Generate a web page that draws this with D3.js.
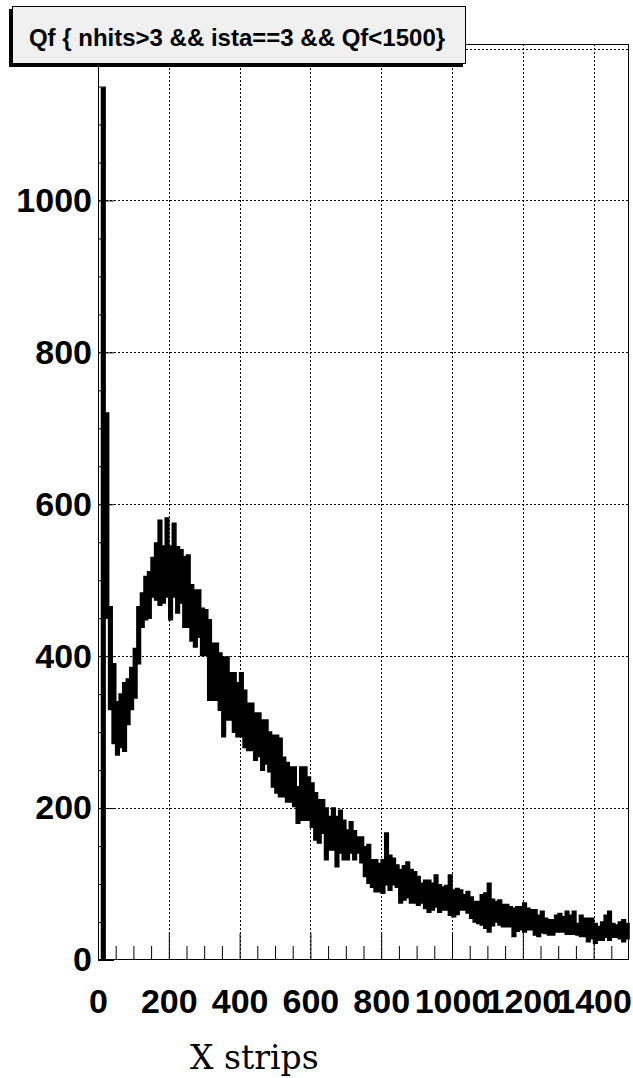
<!DOCTYPE html>
<html>
<head>
<meta charset="utf-8">
<script src="https://cdn.jsdelivr.net/npm/d3@7/dist/d3.min.js"></script>
<style>
  html, body { margin: 0; padding: 0; background: #ffffff; }
  svg { display: block; }
</style>
</head>
<body>
<script>
// Qf spectrum (strips), 10-strip columns: highest and lowest bin content seen in each column
const binWidth = 10;
const stripHi = [
  0, 1148, 720, 465, 390, 340, 350, 365, 370, 385,
  410, 465, 483, 505, 511, 530, 549, 579, 545, 582,
  545, 575, 544, 540, 531, 533, 494, 487, 487, 463,
  461, 448, 417, 417, 404, 399, 399, 378, 378, 365,
  378, 355, 338, 338, 325, 325, 316, 316, 300, 296,
  296, 292, 267, 260, 254, 254, 228, 254, 254, 241,
  233, 220, 211, 211, 200, 189, 200, 189, 197, 184,
  171, 182, 170, 162, 162, 149, 152, 132, 132, 127,
  132, 167, 138, 134, 125, 119, 124, 129, 119, 116,
  110, 101, 105, 105, 101, 112, 99, 96, 98, 112,
  92, 94, 92, 86, 90, 83, 77, 77, 86, 88,
  101, 80, 77, 79, 73, 73, 70, 68, 70, 70,
  75, 68, 66, 66, 59, 64, 55, 53, 53, 59,
  61, 57, 64, 59, 64, 48, 59, 55, 55, 55,
  48, 44, 50, 59, 64, 48, 46, 50, 53, 48
];
const stripLo = [
  0, 0, 450, 330, 285, 270, 280, 275, 310, 330,
  345, 390, 438, 448, 450, 478, 474, 467, 470, 478,
  448, 478, 457, 470, 438, 438, 420, 412, 425, 401,
  401, 342, 342, 342, 329, 294, 316, 316, 300, 294,
  294, 280, 276, 276, 263, 268, 250, 258, 248, 228,
  220, 215, 215, 208, 208, 202, 180, 184, 184, 184,
  175, 158, 154, 167, 132, 145, 145, 123, 141, 132,
  132, 141, 132, 141, 128, 110, 101, 96, 90, 90,
  88, 99, 92, 99, 96, 75, 79, 82, 75, 75,
  72, 75, 68, 63, 66, 70, 63, 66, 66, 59,
  57, 60, 66, 66, 62, 55, 50, 48, 46, 42,
  37, 45, 50, 46, 44, 44, 44, 31, 38, 40,
  37, 40, 40, 33, 31, 36, 35, 33, 33, 37,
  37, 37, 34, 34, 34, 33, 31, 31, 24, 28,
  22, 26, 26, 30, 26, 30, 30, 28, 24, 28
];

const xDomain = [0, 1500];
const yDomain = [0, 1206];
const xTickValues = [0, 200, 400, 600, 800, 1000, 1200, 1400];
const xTickLabels = ["0", "200", "400", "600", "800", "1000", "1200", "1400"];
const yTickValues = [0, 200, 400, 600, 800, 1000, 1200];
const yTickLabels = ["0", "200", "400", "600", "800", "1000"];   // 1200 sits under the title pave
const titleText = "Qf { nhits>3 && ista==3 && Qf<1500}";
const xTitle = "X strips";

const W = 633, H = 1078;
const frame = { left: 98, right: 629, top: 44, bottom: 960 };
const labelFont = "'Liberation Sans', Arial, Helvetica, sans-serif";

const svg = d3.select("body").append("svg")
  .attr("width", W).attr("height", H)
  .attr("viewBox", `0 0 ${W} ${H}`);

const x = d3.scaleLinear().domain(xDomain).range([frame.left, frame.right]);
const y = d3.scaleLinear().domain(yDomain).range([frame.bottom, frame.top]);

// dotted grid at the major ticks
const grid = svg.append("g").attr("stroke", "#000").attr("stroke-width", 1)
  .attr("stroke-dasharray", "2,2").attr("fill", "none");
grid.selectAll("line.gx").data(xTickValues.filter(v => v > 0))
  .join("line").attr("class", "gx")
  .attr("x1", d => Math.round(x(d)) + 0.5).attr("x2", d => Math.round(x(d)) + 0.5)
  .attr("y1", frame.top).attr("y2", frame.bottom);
grid.selectAll("line.gy").data(yTickValues.filter(v => v > 0))
  .join("line").attr("class", "gy")
  .attr("y1", d => Math.round(y(d)) + 0.5).attr("y2", d => Math.round(y(d)) + 0.5)
  .attr("x1", frame.left).attr("x2", frame.right);

// histogram band: every column filled between its lowest and highest bin content
const cols = stripHi.map((h, i) => ({ x0: i * binWidth, hi: h, lo: stripLo[i] }));
cols.push({ x0: cols.length * binWidth, hi: stripHi[stripHi.length - 1], lo: stripLo[stripLo.length - 1] });
const band = d3.area()
  .x(d => x(d.x0))
  .y0(d => y(d.lo))
  .y1(d => y(d.hi))
  .curve(d3.curveStepAfter);
svg.append("path")
  .datum(cols)
  .attr("d", band)
  .attr("fill", "#000")
  .attr("stroke", "#000")
  .attr("stroke-width", 1.6)
  .attr("stroke-linejoin", "miter");

// frame
svg.append("rect")
  .attr("x", frame.left + 0.5).attr("y", frame.top + 0.5)
  .attr("width", frame.right - frame.left - 1).attr("height", frame.bottom - frame.top - 1)
  .attr("fill", "none").attr("stroke", "#000").attr("stroke-width", 1);

// x axis: ticks point up into the frame
const xMinor = d3.range(xDomain[0], xDomain[1], 50).filter(v => v % 200 !== 0);
const xAxisMinor = d3.axisBottom(x).tickValues(xMinor).tickSizeInner(-14).tickSizeOuter(0).tickFormat("");
const xAxisMajor = d3.axisBottom(x).tickValues(xTickValues).tickSizeInner(-27).tickSizeOuter(0)
  .tickPadding(29).tickFormat((d, i) => xTickLabels[i]);
[xAxisMinor, xAxisMajor].forEach(ax => {
  const g = svg.append("g").attr("transform", `translate(0,${frame.bottom})`).call(ax);
  g.select(".domain").remove();
  g.selectAll(".tick line").attr("stroke", "#000").attr("stroke-width", 1);
  g.selectAll("text").attr("fill", "#000").attr("font-family", labelFont)
    .attr("font-weight", "bold").attr("font-size", 34);
});

// y axis: ticks point right into the frame
const yMinor = d3.range(yDomain[0], yDomain[1], 50).filter(v => v % 200 !== 0);
const yAxisMinor = d3.axisLeft(y).tickValues(yMinor).tickSizeInner(-8).tickSizeOuter(0).tickFormat("");
const yAxisMajor = d3.axisLeft(y).tickValues(yTickValues).tickSizeInner(-16).tickSizeOuter(0)
  .tickPadding(6).tickFormat((d, i) => yTickLabels[i] || "");
[yAxisMinor, yAxisMajor].forEach(ax => {
  const g = svg.append("g").attr("transform", `translate(${frame.left},0)`).call(ax);
  g.select(".domain").remove();
  g.selectAll(".tick line").attr("stroke", "#000").attr("stroke-width", 1);
  g.selectAll("text").filter(function () { return this.textContent === ""; }).remove();
  g.selectAll("text").attr("fill", "#000").attr("font-family", labelFont)
    .attr("font-weight", "bold").attr("font-size", 34);
});

// axis title
svg.append("text")
  .attr("x", 190).attr("y", 1069)
  .attr("font-family", "'DejaVu Serif', serif")
  .attr("font-size", 33)
  .attr("fill", "#000")
  .text(xTitle);

// title pave with its shadow
const pave = { x: 12, y: 6, w: 454, h: 58, shadow: 3 };
svg.append("rect")
  .attr("x", pave.x - pave.shadow).attr("y", pave.y + pave.shadow)
  .attr("width", pave.w).attr("height", pave.h)
  .attr("fill", "#000");
svg.append("rect")
  .attr("x", pave.x + 0.5).attr("y", pave.y + 0.5)
  .attr("width", pave.w - 1).attr("height", pave.h - 1)
  .attr("fill", "#f0f0f0").attr("stroke", "#000").attr("stroke-width", 1);
svg.append("text")
  .attr("x", pave.x + pave.w / 2 - 2).attr("y", pave.y + 40)
  .attr("text-anchor", "middle")
  .attr("font-family", labelFont)
  .attr("font-weight", "bold")
  .attr("font-size", 24)
  .attr("fill", "#000")
  .text(titleText);
</script>
</body>
</html>
